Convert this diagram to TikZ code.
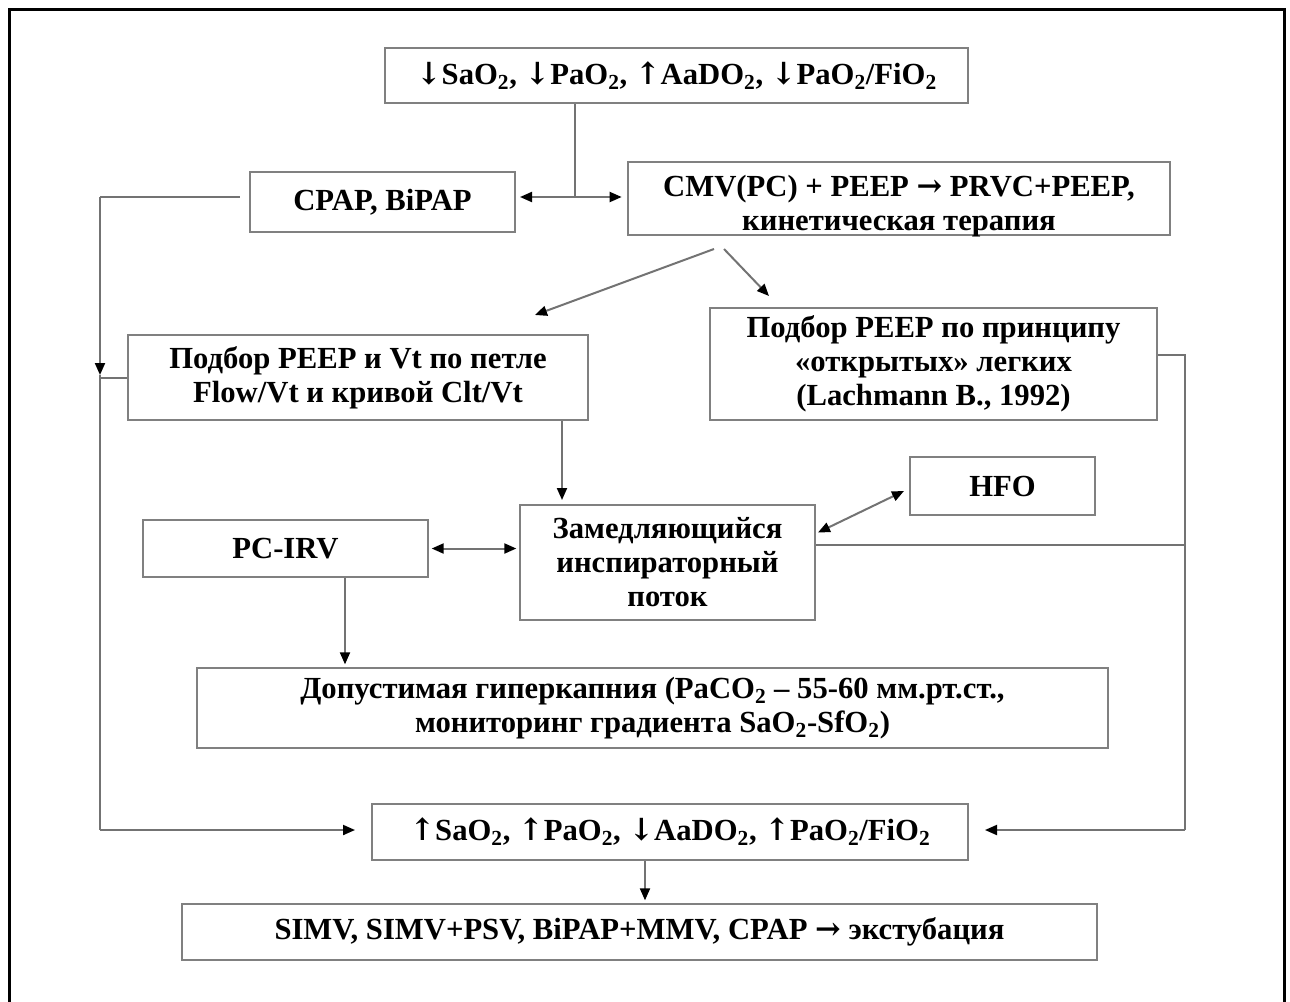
\documentclass[tikz,border=0pt]{standalone}
\usepackage{fontspec}
\setmainfont{Liberation Serif}
\newfontfamily\arrfont{DejaVu Serif}
\usetikzlibrary{arrows.meta}
\newcommand\two{\textsubscript{2}}
\newcommand\dn{{\arrfont\bfseries ↓}}
\newcommand\upa{{\arrfont\bfseries ↑}}
\newcommand\ra{{\arrfont\bfseries →}}
\tikzset{
  box/.style={draw=black!50, line width=1.5pt, fill=white, inner sep=0pt, align=center,
    font=\fontsize{23}{25.5}\selectfont\bfseries},
  conn/.style={draw=black!55, line width=1.5pt},
  tip/.style={-{Triangle[length=9pt,width=7.5pt,color=black]}},
  tips/.style={{Triangle[length=9pt,width=7.5pt,color=black]}-{Triangle[length=9pt,width=7.5pt,color=black]}},
}
\begin{document}
\begin{tikzpicture}[x=0.75pt,y=-0.75pt]
\useasboundingbox (0,0) rectangle (1290,1001);
\draw[line width=2.25pt] (9,1010) -- (9,9) -- (1284,9) -- (1284,1010);

\node[box, minimum width=0.75pt*583, minimum height=0.75pt*55] (top) at (676.5,75.5)
  {\dn SaO\two, \dn PaO\two, \upa AaDO\two, \dn PaO\two/FiO\two};
\node[box, minimum width=0.75pt*265, minimum height=0.75pt*60] (cpap) at (382.5,202) {CPAP, BiPAP};
\node[box, minimum width=0.75pt*542, minimum height=0.75pt*73] (cmv) at (899,198.5) {};
\node[font=\fontsize{23}{25.5}\selectfont\bfseries, align=center, inner sep=0pt] (cmvtext) at (899,206)
  {CMV(PC) + PEEP \ra{} PRVC+PEEP,\\кинетическая терапия};
\node[box, minimum width=0.75pt*460, minimum height=0.75pt*85] (pf) at (358,377.5)
  {Подбор PEEP и Vt по петле\\Flow/Vt и кривой Clt/Vt};
\node[box, minimum width=0.75pt*447, minimum height=0.75pt*112] (open) at (933.5,364)
  {Подбор PEEP по принципу\\«открытых» легких\\(Lachmann B., 1992)};
\node[box, minimum width=0.75pt*185, minimum height=0.75pt*58] (hfo) at (1002.5,486) {HFO};
\node[box, minimum width=0.75pt*285, minimum height=0.75pt*57] (pcirv) at (285.5,548.5) {PC-IRV};
\node[box, minimum width=0.75pt*295, minimum height=0.75pt*115] (zam) at (667.5,562.5)
  {Замедляющийся\\инспираторный\\поток};
\node[box, minimum width=0.75pt*911, minimum height=0.75pt*80] (dop) at (652.5,708)
  {Допустимая гиперкапния (PaCO\two{} – 55-60 мм.рт.ст.,\\мониторинг градиента SaO\two-SfO\two)};
\node[box, minimum width=0.75pt*596, minimum height=0.75pt*56] (res) at (670,832)
  {\upa SaO\two, \upa PaO\two, \dn AaDO\two, \upa PaO\two/FiO\two};
\node[box, minimum width=0.75pt*915, minimum height=0.75pt*56] (simv) at (639.5,932)
  {SIMV, SIMV+PSV, BiPAP+MMV, CPAP \ra{} экстубация};

% junction coordinates
\coordinate (j1) at (575,197);
\coordinate (L1) at (100,197);
\coordinate (L3) at (100,375);
\coordinate (L2) at (100,830);
\coordinate (R1) at (1185,355);
\coordinate (R3) at (1185,545);
\coordinate (R2) at (1185,830);
\coordinate (v1) at (562,0);
\coordinate (v2) at (345,0);
\coordinate (v3) at (645,0);

\draw[conn] (top.south -| j1) -- (j1);
\draw[conn, tips, shorten <=3pt, shorten >=4pt] (cpap.east |- j1) -- (cmv.west |- j1);

\draw[conn, shorten <=7pt] (cpap.west |- L1) -- (L1);
\draw[conn, tip] (L1) -- (L3);
\draw[conn] (L3) -- (L2);
\draw[conn, tip, shorten >=12pt] (L2) -- (res.west |- L2);
\draw[conn] (pf.west) -- (pf.west -| L1);

\draw[conn, tip] ([shift={(87,13)}]cmv.south west) -- ([shift={(177,-19)}]pf.north);
\draw[conn, tip] ([shift={(97,13)}]cmv.south west) -- ([shift={(60,-11)}]open.north west);

\draw[conn, tip, shorten >=3pt] (pf.south -| v1) -- (zam.north -| v1);
\draw[conn, tips, shorten <=2pt, shorten >=2pt] (pcirv.east) -- (pcirv.east -| zam.west);
\draw[conn, tips] ([shift={(2,-30)}]zam.east) -- ([shift={(-5,5)}]hfo.west);

\draw[conn] (open.east |- R1) -- (R1) -- (R2);
\draw[conn] (zam.east |- R3) -- (R3);
\draw[conn, tip, shorten >=12pt] (R2) -- (res.east |- R2);

\draw[conn, tip, shorten >=2pt] (pcirv.south -| v2) -- (dop.north -| v2);
\draw[conn, tip, shorten >=2pt] (res.south -| v3) -- (simv.north -| v3);
\end{tikzpicture}
\end{document}
